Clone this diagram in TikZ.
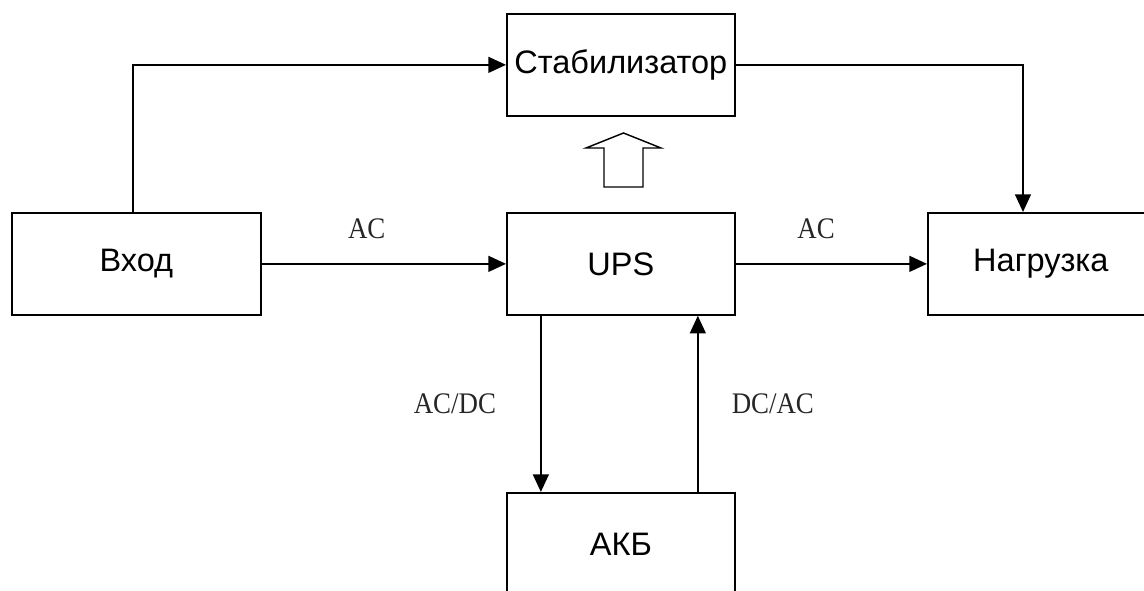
\documentclass[tikz,border=0pt]{standalone}
\usepackage{fontspec}
\setmainfont{Liberation Sans}
\newfontfamily\lblfont[FakeStretch=0.9]{Liberation Serif}
\usetikzlibrary{arrows.meta,positioning}

\begin{document}
\begin{tikzpicture}[x=0.02cm,y=-0.02cm,
    box/.style={draw, line width=1pt, rectangle, minimum height=2.04cm,
      font=\fontsize{18.5}{22}\selectfont},
    arr/.style={line width=1pt, -{Triangle[length=10pt,width=9pt]}},
    lbl/.style={font=\lblfont\fontsize{17}{20}\selectfont, text=black!85}]

  % page frame, pixel units
  \useasboundingbox (0,0) rectangle (1144,591);
  \clip (0,0) rectangle (1144,591);

  % Boxes
  \node[box, minimum width=4.56cm, anchor=north west] (stab) at (506,13) {Стабилизатор};
  \node[box, minimum width=4.98cm, anchor=north west] (vhod) at (11,212) {Вход};
  \node[box, minimum width=4.56cm, anchor=north west] (ups) at (506,212) {UPS};
  \node[box, minimum width=4.52cm, anchor=north west] (nagr) at (927,212) {Нагрузка};
  \node[box, minimum width=4.56cm, anchor=north west] (akb) at (506,492) {АКБ};

  % Bypass through the stabilizer
  \draw[arr] ([xshift=-0.07cm]vhod.north) |- (stab.west);
  \draw[arr] (stab.east) -| ([xshift=1.92cm]nagr.north west);

  % Main line
  \draw[arr] (vhod.east) -- (ups.west) node[lbl, pos=0.43, yshift=0.7cm] {AC};
  \draw[arr] (ups.east) -- (nagr.west) node[lbl, pos=0.42, yshift=0.7cm] {AC};

  % Battery
  \draw[arr] ([xshift=-1.6cm]ups.south) -- ([xshift=-1.6cm]akb.north)
    node[lbl, midway, xshift=-1.72cm] {AC/DC};
  \draw[arr] ([xshift=1.54cm]akb.north) -- ([xshift=1.54cm]ups.south)
    node[lbl, midway, xshift=1.5cm] {DC/AC};

  % Hollow arrow up to the stabilizer
  \draw[line width=0.8pt] (604,187) -- (604,148) -- (586,148) -- (623.5,133)
    -- (661,148) -- (643,148) -- (643,187) -- cycle;

\end{tikzpicture}
\end{document}
